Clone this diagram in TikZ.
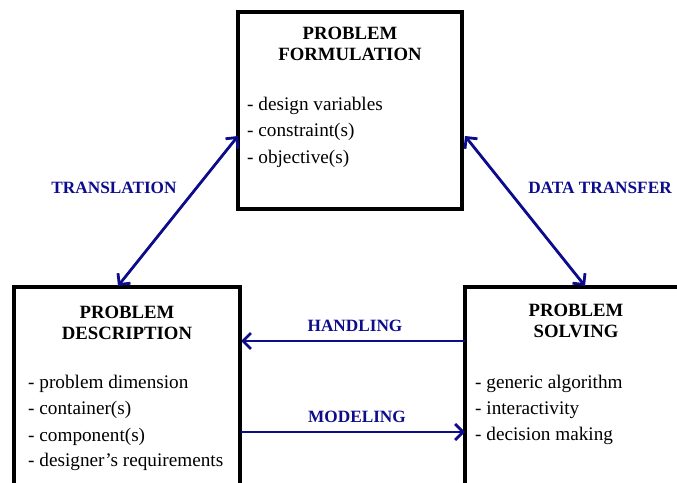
\documentclass[tikz,border=0pt]{standalone}
\usepackage{fontspec}
\setmainfont{Liberation Serif}
\usetikzlibrary{arrows.meta}
\definecolor{lblue}{RGB}{12,12,140}
\begin{document}
\begin{tikzpicture}[x=1bp,y=-1bp,
  box/.style={draw=black,line width=3.5bp,fill=white,inner sep=0pt},
  ttl/.style={font=\fontsize{18.8}{20}\selectfont\bfseries,anchor=base,inner sep=0pt},
  itm/.style={font=\fontsize{19.3}{20}\selectfont,anchor=base west,inner sep=0pt},
  lbl/.style={font=\fontsize{17.3}{18}\selectfont\bfseries,text=lblue,anchor=base,inner sep=0pt},
  tip/.style={},
  conn/.style={draw=lblue,line width=2.8bp,arrows={-Straight Barb[length=8bp,width=16bp,line width=2.8bp]}},
  bconn/.style={draw=lblue,line width=2.8bp,arrows={Straight Barb[length=8bp,width=16bp,line width=2.8bp]-Straight Barb[length=8bp,width=16bp,line width=2.8bp]}}]
\useasboundingbox (0,0) rectangle (677,483);
\clip (0,0) rectangle (677,483);
\fill[white] (0,0) rectangle (677,483);
% boxes
\node[box,minimum width=224bp,minimum height=197bp] (top) at (350,110.5) {};
\node[box,minimum width=226bp,minimum height=199bp] (left) at (127,386.5) {};
\node[box,minimum width=240bp,minimum height=199bp] (right) at (585,386.5) {};
% top texts
\node[ttl] (t1) at (350,40) {PROBLEM};
\node[ttl] (t2) at (350,61) {FORMULATION};
\node[itm] (t3) at (247,111) {- design variables};
\node[itm] (t4) at (247,137) {- constraint(s)};
\node[itm] (t5) at (247,164) {- objective(s)};
% left texts
\node[ttl] (l1) at (127,318) {PROBLEM};
\node[ttl] (l2) at (127,339) {DESCRIPTION};
\node[itm] (l3) at (28,388) {- problem dimension};
\node[itm] (l4) at (28,414) {- container(s)};
\node[itm] (l5) at (28,441) {- component(s)};
\node[itm] (l6) at (28,466) {- designer’s requirements};
% right texts
\node[ttl] (r1) at (576,316) {PROBLEM};
\node[ttl] (r2) at (576,337) {SOLVING};
\node[itm] (r3) at (475,388) {- generic algorithm};
\node[itm] (r4) at (475,414) {- interactivity};
\node[itm] (r5) at (475,440) {- decision making};
% connector ends
\coordinate (a1) at (118,286);
\coordinate (a2) at (238,136);
\coordinate (b1) at (465,136);
\coordinate (b2) at (585,286);
\coordinate (h1) at (465,341);
\coordinate (h2) at (241,341);
\coordinate (m1) at (241,432);
\coordinate (m2) at (465,432);
\draw[bconn] (a1) -- (a2);
\draw[bconn] (b1) -- (b2);
\draw[conn] (h1) -- (h2);
\draw[conn] (m1) -- (m2);
% labels
\node[lbl] (tl) at (114,194) {TRANSLATION};
\node[lbl] (dl) at (600,194) {DATA TRANSFER};
\node[lbl] (hl) at (355,331) {HANDLING};
\node[lbl] (ml) at (357,422) {MODELING};
\end{tikzpicture}
\end{document}
